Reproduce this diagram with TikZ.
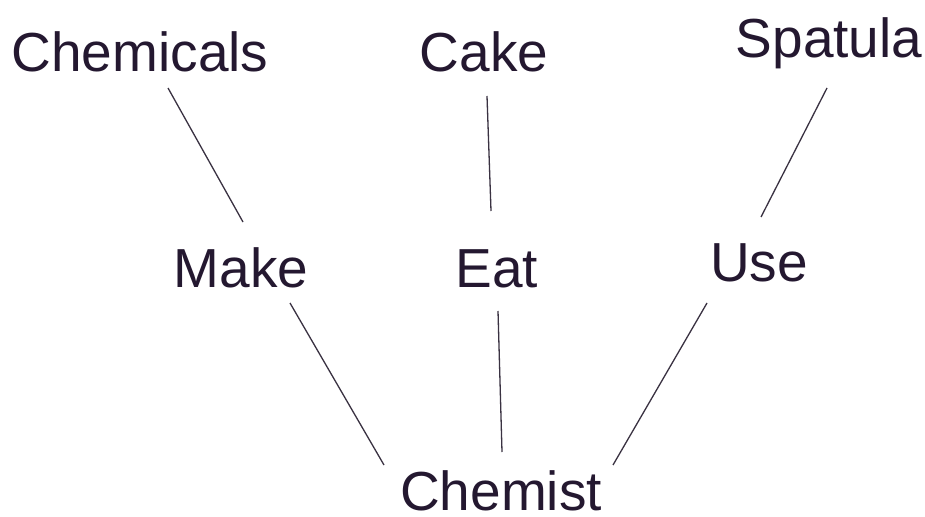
\documentclass[tikz,border=0pt]{standalone}
\usepackage{fontspec}
\setmainfont{Liberation Sans}
\definecolor{txt}{HTML}{241830}
\definecolor{ln}{HTML}{3A3242}
\begin{document}
\begin{tikzpicture}[x=1pt,y=-1pt,
  lbl/.style={anchor=base,inner sep=0pt,text=txt,font=\fontsize{55}{60}\selectfont},
  edge/.style={draw=ln,line width=1.3pt}]
\useasboundingbox[fill=white] (0,0) rectangle (925,516);
\node[lbl] (chemicals) at (140,72) {Chemicals};
\node[lbl] (cake) at (484,72) {Cake};
\node[lbl] (spatula) at (829,58) {Spatula};
\node[lbl] (make) at (241,287) {Make};
\node[lbl] (eat) at (497,287) {Eat};
\node[lbl] (use) at (759,281) {Use};
\node[lbl] (chemist) at (501,510) {Chemist};
\draw[edge] ([shift={(28,16)}]chemicals.base) -- ([shift={(2,-65)}]make.base);
\draw[edge] ([shift={(3,24)}]cake.base) -- ([shift={(-6,-76)}]eat.base);
\draw[edge] ([shift={(-2,30)}]spatula.base) -- ([shift={(2,-64)}]use.base);
\draw[edge] ([shift={(49,16)}]make.base) -- ([shift={(-117,-45)}]chemist.base);
\draw[edge] ([shift={(1,24)}]eat.base) -- ([shift={(1,-58)}]chemist.base);
\draw[edge] ([shift={(-52,22)}]use.base) -- ([shift={(112,-45)}]chemist.base);
\end{tikzpicture}
\end{document}
